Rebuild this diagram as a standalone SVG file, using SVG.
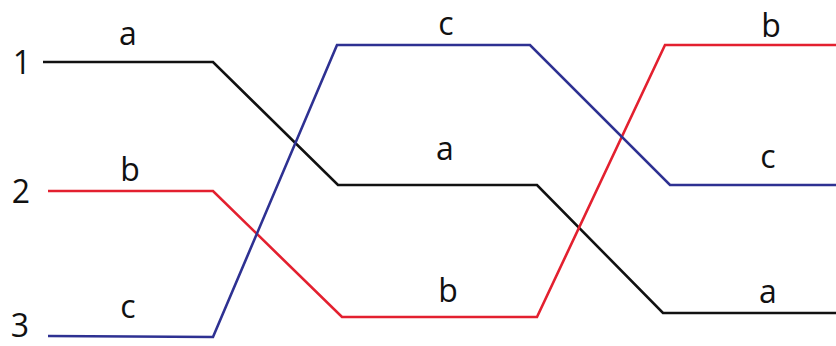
<svg xmlns="http://www.w3.org/2000/svg" width="836" height="346" viewBox="0 0 836 346">
<style>
.w{fill:none;stroke-width:2.6;stroke-linejoin:miter}
.k{stroke:#111}
.r{stroke:#e3202f}
.b{stroke:#2e3192}
text{font-family:"Open Sans","Liberation Sans",sans-serif;font-size:32px;fill:#111;text-anchor:middle}
</style>
<rect width="836" height="346" fill="#fff"/>
<g id="connectors">
<polyline class="w k" points="43,62 213,62 338,185 537,185 663,313 836,313"/>
<polyline class="w r" points="48,191 213,191 342,317 537,317 665,45 836,45"/>
<polyline class="w b" points="48,336 213,337 337,45 530,45 670,185 836,185"/>
</g>
<g id="row-labels">
<text x="22" y="74">1</text>
<text x="21" y="203">2</text>
<text x="20" y="337">3</text>
</g>
<g id="labels">
<text x="128" y="45">a</text>
<text x="130" y="181">b</text>
<text x="128" y="318">c</text>
<text x="446" y="35">c</text>
<text x="445" y="160">a</text>
<text x="448" y="302">b</text>
<text x="771" y="37">b</text>
<text x="768" y="168">c</text>
<text x="768" y="303">a</text>
</g>
</svg>
